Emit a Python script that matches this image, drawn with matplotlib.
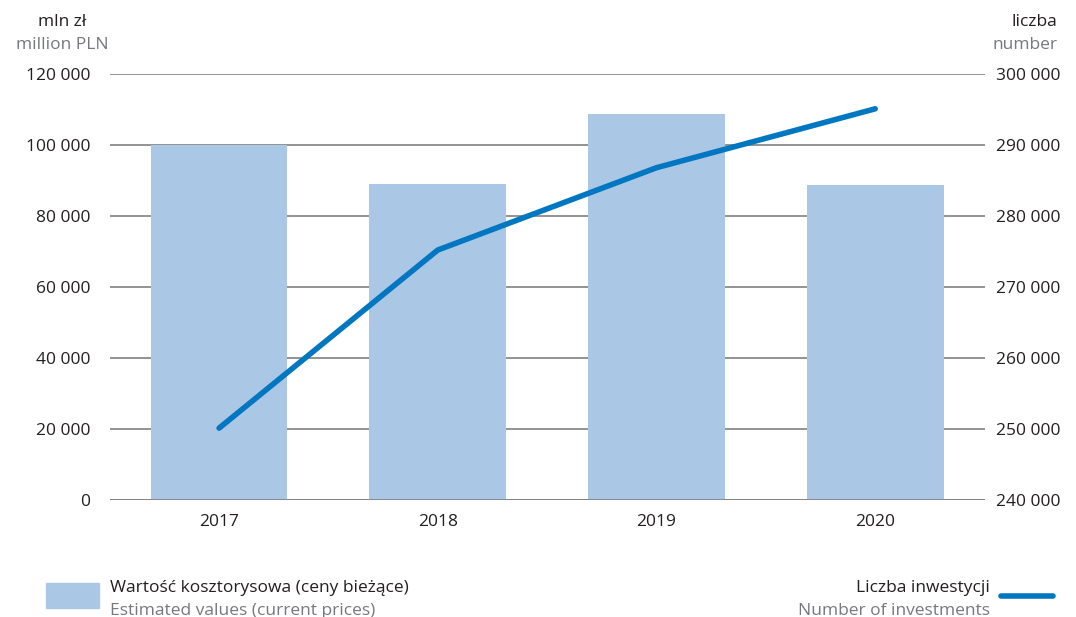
import matplotlib.pyplot as plt
from matplotlib.patches import Rectangle
from matplotlib.lines import Line2D

plt.rcParams['font.family'] = ['Open Sans', 'DejaVu Sans']

years = ['2017', '2018', '2019', '2020']
values = [100000, 89000, 108700, 88700]        # mln zl
investments = [250100, 275200, 286800, 295100]  # number

BAR = '#aac7e6'
LINE = '#0077c0'
GRID = '#808080'
DARK = '#231f20'
GREY = '#76787b'

fig = plt.figure(figsize=(10.76, 6.17), dpi=100)
ax = fig.add_axes([0.102, 0.19, 0.813, 0.69])
ax2 = ax.twinx()

x = range(len(years))
left_ticks = list(range(0, 120001, 20000))
right_ticks = list(range(240000, 300001, 10000))

# gridlines behind the bars
for t in left_ticks:
    ax.axhline(t, color=GRID, lw=1.2, zorder=1)
ax.bar(x, values, width=0.625, color=BAR, zorder=2)
ax.axhline(0, color=GRID, lw=1.2, zorder=3)
ax2.plot(x, investments, color=LINE, lw=4, solid_capstyle='round', zorder=3)

ax.set_xlim(-0.5, 3.5)
ax.set_ylim(0, 120000)
ax2.set_ylim(240000, 300000)
fmt = lambda v: f'{v:,}'.replace(',', ' ')
ax.set_yticks(left_ticks)
ax.set_yticklabels([fmt(v) for v in left_ticks])
ax2.set_yticks(right_ticks)
ax2.set_yticklabels([fmt(v) for v in right_ticks])
ax.set_xticks(list(x))
ax.set_xticklabels(years)

for a in (ax, ax2):
    for s in a.spines.values():
        s.set_visible(False)
    a.tick_params(length=0, labelsize=12.5, colors=DARK)
ax.tick_params(axis='y', pad=14)
ax2.tick_params(axis='y', pad=8)
ax.tick_params(axis='x', pad=10)

fig.text(0.058, 0.958, 'mln zł', ha='center', fontsize=12.5, color=DARK)
fig.text(0.058, 0.921, 'million PLN', ha='center', fontsize=12.5, color=GREY)
fig.text(0.983, 0.958, 'liczba', ha='right', fontsize=12.5, color=DARK)
fig.text(0.983, 0.921, 'number', ha='right', fontsize=12.5, color=GREY)

# legend
fig.patches.append(Rectangle((0.043, 0.015), 0.049, 0.04, transform=fig.transFigure,
                             color=BAR))
fig.text(0.102, 0.04, 'Wartość kosztorysowa (ceny bieżące)', fontsize=12.5, color=DARK)
fig.text(0.102, 0.003, 'Estimated values (current prices)', fontsize=12.5, color=GREY)
fig.text(0.92, 0.04, 'Liczba inwestycji', ha='right', fontsize=12.5, color=DARK)
fig.text(0.92, 0.003, 'Number of investments', ha='right', fontsize=12.5, color=GREY)
fig.lines.append(Line2D([0.93, 0.979], [0.034, 0.034], transform=fig.transFigure,
                        color=LINE, lw=4, solid_capstyle='round'))

fig.savefig('out.png')
